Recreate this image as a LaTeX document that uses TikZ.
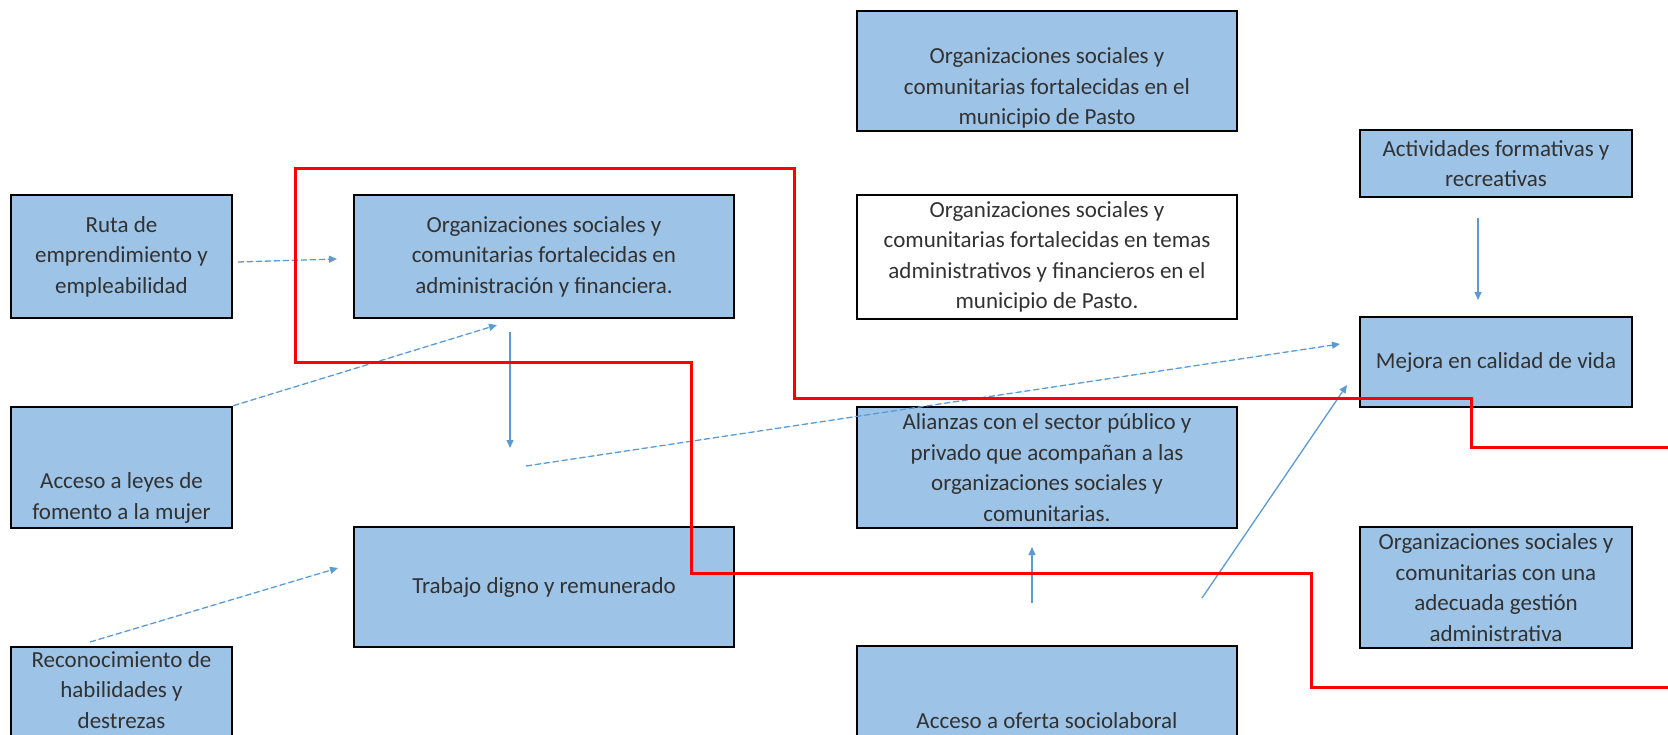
\documentclass[tikz,border=0pt]{standalone}
\usepackage{fontspec}
\setmainfont{Carlito}
\usetikzlibrary{arrows.meta}
\definecolor{boxblue}{RGB}{157,195,230}
\definecolor{arrowblue}{RGB}{91,155,213}
\definecolor{txtgray}{RGB}{50,50,50}
\begin{document}
\begin{tikzpicture}[
x=1pt, y=-1pt,
box/.style={rectangle, draw=black, line width=2.6pt, fill=boxblue, inner sep=0pt, align=center, text=txtgray, font=\fontsize{23pt}{30.5pt}\selectfont},
wide/.style={box, minimum width=380pt},
narrow/.style={box, minimum width=221pt},
side/.style={box, minimum width=272pt},
txt/.style={align=center, inner sep=0pt, text=txtgray, font=\fontsize{23pt}{30.5pt}\selectfont},
arrow/.style={-{Triangle[width=7pt,length=8pt]}, draw=arrowblue, fill=arrowblue, line width=1.3pt},
dasharrow/.style={arrow, dash pattern=on 6pt off 3pt},
border/.style={draw=red, line width=3pt}
]
\useasboundingbox (0,0) rectangle (1668,734);
\clip (0,0) rectangle (1668,734);

\node[wide, minimum height=120pt] (orgPasto) at (1047,71) {};
\node[txt] (orgPastoTxt) at (1047,88) {Organizaciones sociales y\\comunitarias fortalecidas en el\\municipio de Pasto};

\node[side, minimum height=67pt] (actividades) at (1496,163.5) {Actividades formativas y\\recreativas};

\node[narrow, minimum height=123pt] (ruta) at (121.5,256.5) {Ruta de\\emprendimiento y\\empleabilidad};

\node[wide, minimum height=123pt] (orgAdmin) at (544,256.5) {Organizaciones sociales y\\comunitarias fortalecidas en\\administración y financiera.};

\node[wide, minimum height=124pt, fill=white] (orgTemas) at (1047,257) {Organizaciones sociales y\\comunitarias fortalecidas en temas\\administrativos y financieros en el\\municipio de Pasto.};

\node[side, minimum height=90pt] (mejora) at (1496,362) {Mejora en calidad de vida};

\node[narrow, minimum height=121pt] (leyes) at (121.5,467.5) {};
\node[txt] (leyesTxt) at (121.5,498) {Acceso a leyes de\\fomento a la mujer};

\node[wide, minimum height=121pt] (alianzas) at (1047,467.5) {Alianzas con el sector público y\\privado que acompañan a las\\organizaciones sociales y\\comunitarias.};

\node[wide, minimum height=120pt] (trabajo) at (544,587) {Trabajo digno y remunerado};

\node[side, minimum height=121pt] (gestion) at (1496,587.5) {Organizaciones sociales y\\comunitarias con una\\adecuada gestión\\administrativa};

\node[narrow, minimum height=122pt] (reconoc) at (121.5,708) {};
\node[txt] (reconocTxt) at (121.5,690) {Reconocimiento de\\habilidades y\\destrezas};

\node[wide, minimum height=122pt] (oferta) at (1047,707) {};
\node[txt] (ofertaTxt) at (1047,721) {Acceso a oferta sociolaboral};

\coordinate (rutaOut) at (238,262);
\coordinate (adminIn) at (337,259);
\coordinate (adminIn2) at (497,325);
\coordinate (adminOut) at (510,332);
\coordinate (adminEnd) at (510,448);
\coordinate (midStart) at (526,466);
\coordinate (mejoraIn) at (1340,344);
\coordinate (reconocOut) at (90,642);
\coordinate (trabajoIn) at (338,568);
\coordinate (ofertaOut) at (1032,603);
\coordinate (alianzasIn) at (1032,547);
\coordinate (ofertaOut2) at (1202,598);
\coordinate (mejoraIn2) at (1347,385);
\coordinate (activOut) at (1478,218);
\coordinate (mejoraTop) at (1478,300);

\draw[dasharrow] (rutaOut) -- (adminIn);
\draw[dasharrow] (leyes.north east) -- (adminIn2);
\draw[arrow] (adminOut) -- (adminEnd);
\draw[dasharrow] (midStart) -- (mejoraIn);
\draw[dasharrow] (reconocOut) -- (trabajoIn);
\draw[arrow] (ofertaOut) -- (alianzasIn);
\draw[arrow] (ofertaOut2) -- (mejoraIn2);
\draw[arrow] (activOut) -- (mejoraTop);

\draw[border] (1668,447) -| (1471,398) -| (794,168) -| (295,362) -| (691,573) -| (1311,687) -- (1668,687);

\end{tikzpicture}
\end{document}
